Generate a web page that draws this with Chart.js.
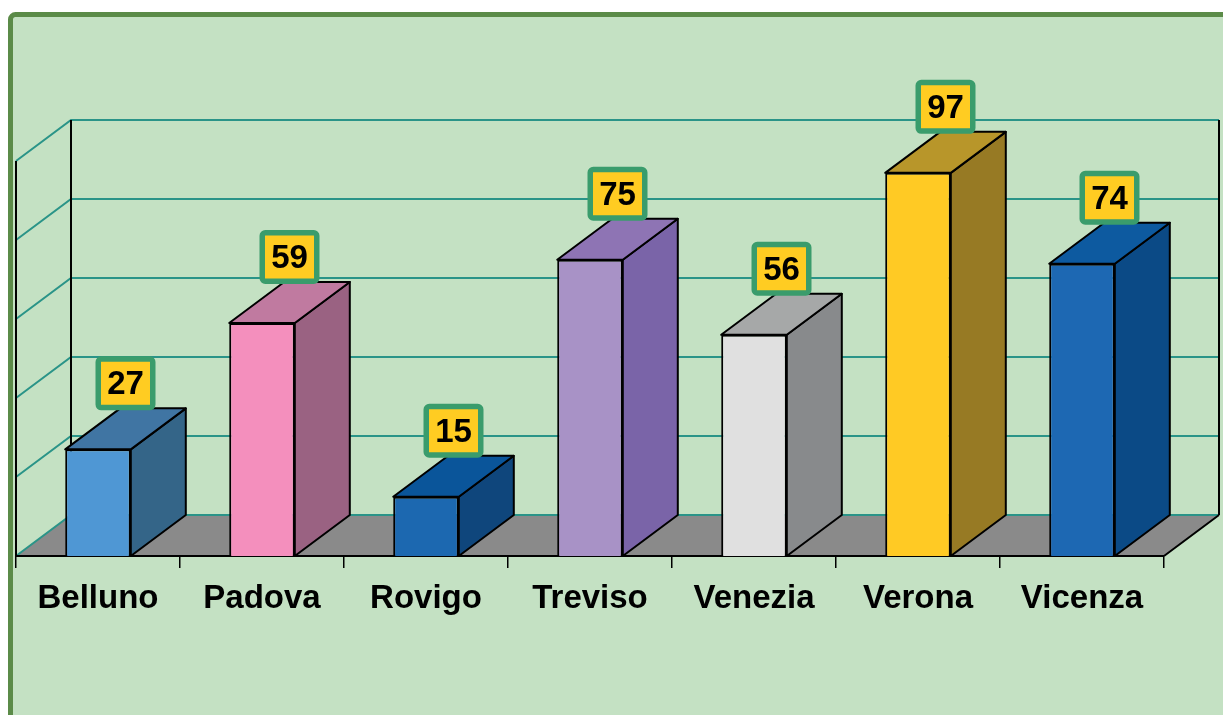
<!DOCTYPE html>
<html>
<head>
<meta charset="utf-8">
<script src="https://cdn.jsdelivr.net/npm/chart.js@4/dist/chart.umd.min.js"></script>
<style>
    html, body { margin: 0; padding: 0; background: #fff; }
    canvas { display: block; }
</style>
</head>
<body>
<canvas id="provinceChart" width="1223" height="715"></canvas>
<script>
// Data
const categories = ['Belluno', 'Padova', 'Rovigo', 'Treviso', 'Venezia', 'Verona', 'Vicenza'];
const values = [27, 59, 15, 75, 56, 97, 74];
const gridValues = [0, 20, 40, 60, 80, 100];

// Bar face colours (front / top / side)
const frontColors = ['#4f97d4', '#f48fbd', '#1c68b0', '#a892c6', '#e0e0e0', '#ffca24', '#1d68b3'];
const topColors = ['#4075a3', '#c07aa0', '#0a559a', '#8e74b4', '#a6a8a8', '#b8962a', '#0d5aa0'];
const sideColors = ['#346588', '#9a6282', '#0f467c', '#7a64a8', '#888a8c', '#977a24', '#0b4a86'];

// 3D depth offset
const DX = 55;
const DY = 41;

const threeD = {
    id: 'threeD',
    beforeDraw(chart) {
        const { ctx, chartArea: a, scales: { y } } = chart;
        ctx.save();

        // outer frame + background
        ctx.fillStyle = '#c4e1c3';
        ctx.strokeStyle = '#5b8b48';
        ctx.lineWidth = 5;
        ctx.beginPath();
        ctx.roundRect(10.5, 14.5, 1300, 800, 5);
        ctx.fill();
        ctx.stroke();

        // floor
        ctx.fillStyle = '#8a8a8a';
        ctx.beginPath();
        ctx.moveTo(a.left, a.bottom);
        ctx.lineTo(a.right, a.bottom);
        ctx.lineTo(a.right + DX, a.bottom - DY);
        ctx.lineTo(a.left + DX, a.bottom - DY);
        ctx.closePath();
        ctx.fill();

        // gridlines on back and left walls
        ctx.strokeStyle = '#2a9488';
        ctx.lineWidth = 2;
        gridValues.forEach(v => {
            const yf = y.getPixelForValue(v);
            ctx.beginPath();
            ctx.moveTo(a.left, yf);
            ctx.lineTo(a.left + DX, yf - DY);
            ctx.lineTo(a.right + DX, yf - DY);
            ctx.stroke();
        });

        // wall edges
        ctx.strokeStyle = '#000';
        ctx.lineWidth = 2;
        ctx.beginPath();
        ctx.moveTo(a.left, a.top);
        ctx.lineTo(a.left, a.bottom);
        ctx.moveTo(a.left + DX, a.top - DY);
        ctx.lineTo(a.left + DX, a.bottom - DY);
        ctx.moveTo(a.right + DX, a.top - DY);
        ctx.lineTo(a.right + DX, a.bottom - DY);
        ctx.moveTo(a.right, a.bottom);
        ctx.lineTo(a.right + DX, a.bottom - DY);
        ctx.stroke();

        ctx.restore();
    },
    afterDatasetsDraw(chart) {
        const { ctx } = chart;
        const meta = chart.getDatasetMeta(0);
        ctx.save();
        ctx.lineJoin = 'round';
        meta.data.forEach((bar, i) => {
            const l = bar.x - bar.width / 2;
            const r = bar.x + bar.width / 2;
            const t = bar.y;
            const b = bar.base;
            ctx.lineWidth = 2;
            ctx.strokeStyle = '#000';

            // side face
            ctx.fillStyle = sideColors[i];
            ctx.beginPath();
            ctx.moveTo(r, t);
            ctx.lineTo(r + DX, t - DY);
            ctx.lineTo(r + DX, b - DY);
            ctx.lineTo(r, b);
            ctx.closePath();
            ctx.fill();
            ctx.stroke();

            // top face
            ctx.fillStyle = topColors[i];
            ctx.beginPath();
            ctx.moveTo(l, t);
            ctx.lineTo(r, t);
            ctx.lineTo(r + DX, t - DY);
            ctx.lineTo(l + DX, t - DY);
            ctx.closePath();
            ctx.fill();
            ctx.stroke();

            // value label
            const w = 60, h = 54;
            const cx = bar.x + DX / 2;
            const by = t - DY + 2;
            ctx.fillStyle = '#ffcc22';
            ctx.strokeStyle = '#3a9c6c';
            ctx.lineWidth = 5.5;
            ctx.beginPath();
            ctx.roundRect(cx - w / 2 + 2.75, by - h + 2.75, w - 5.5, h - 5.5, 3);
            ctx.fill();
            ctx.stroke();
            ctx.fillStyle = '#000';
            ctx.font = 'bold 33px "Liberation Sans", Arial, sans-serif';
            ctx.textAlign = 'center';
            ctx.textBaseline = 'middle';
            ctx.fillText(String(values[i]), cx, by - h / 2 + 2);
        });
        ctx.restore();
    }
};

const ctx = document.getElementById('provinceChart').getContext('2d');
const provinceChart = new Chart(ctx, {
    type: 'bar',
    data: {
        labels: categories,
        datasets: [{
            data: values,
            backgroundColor: frontColors,
            borderColor: '#000',
            borderWidth: 2,
            barPercentage: 0.4,
            categoryPercentage: 1
        }]
    },
    options: {
        responsive: false,
        animation: false,
        layout: {
            padding: { left: 16, right: 59, top: 161, bottom: 59 }
        },
        plugins: {
            legend: { display: false },
            tooltip: { enabled: false }
        },
        scales: {
            y: {
                display: false,
                min: 0,
                max: 100
            },
            x: {
                afterFit: axis => { axis.height = 100; },
                grid: {
                    drawOnChartArea: false,
                    tickLength: 12,
                    color: '#000',
                    lineWidth: 1.5
                },
                border: { color: '#000', width: 2 },
                ticks: {
                    color: '#000',
                    padding: 11,
                    font: { family: '"Liberation Sans", Arial, sans-serif', size: 33, weight: 'bold' }
                }
            }
        }
    },
    plugins: [threeD]
});
</script>
</body>
</html>
